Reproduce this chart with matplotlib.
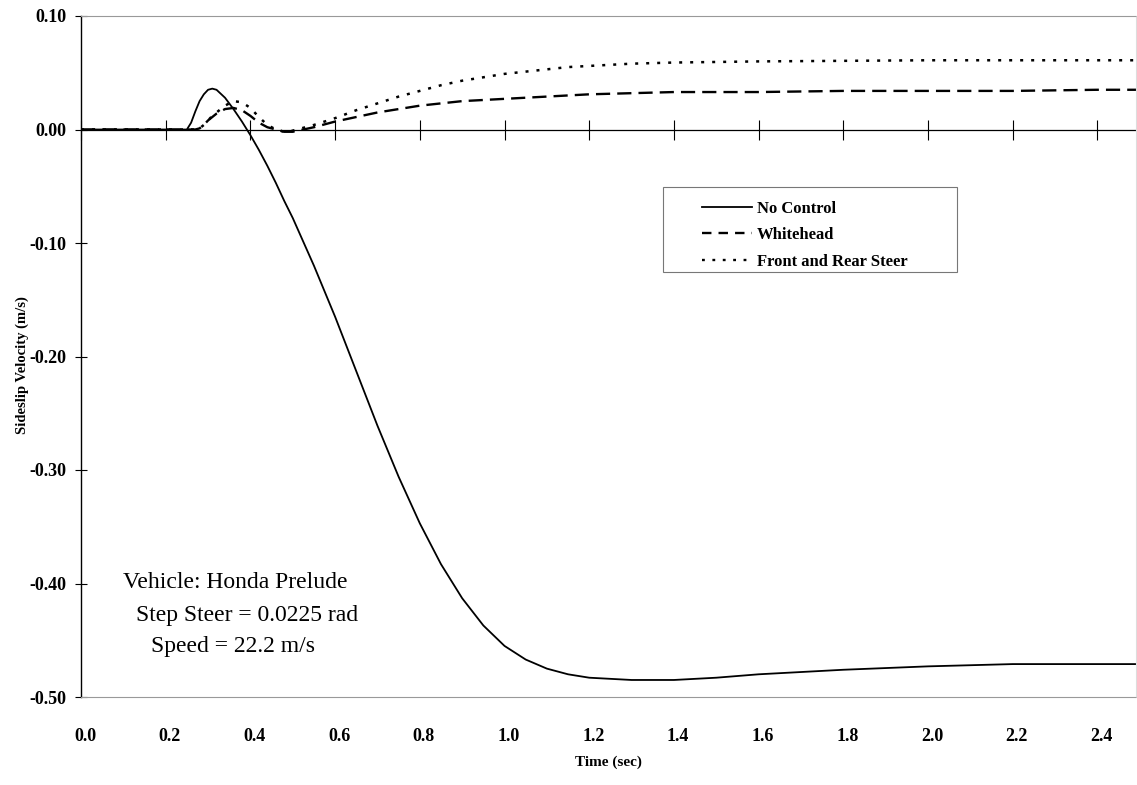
import matplotlib.pyplot as plt
import matplotlib.transforms as mtransforms
from matplotlib.lines import Line2D
from matplotlib.patches import Rectangle

# Data
t = [0.00, 0.20, 0.24, 0.25, 0.26, 0.27, 0.28, 0.29, 0.30, 0.31, 0.32,
     0.34, 0.36, 0.38, 0.40, 0.42, 0.44, 0.46, 0.48, 0.50, 0.55, 0.60,
     0.65, 0.70, 0.75, 0.80, 0.85, 0.90, 0.95, 1.00, 1.05, 1.10, 1.15,
     1.20, 1.30, 1.40, 1.50, 1.60, 1.80, 2.00, 2.20, 2.40, 2.50]

noControl = [0, 0, 0, 0, 0.006, 0.016, 0.025, 0.031, 0.035, 0.036, 0.035,
             0.028, 0.018, 0.007, -0.005, -0.018, -0.032, -0.047, -0.063,
             -0.078, -0.120, -0.165, -0.213, -0.261, -0.306, -0.347,
             -0.383, -0.413, -0.437, -0.455, -0.467, -0.475, -0.480,
             -0.483, -0.485, -0.485, -0.483, -0.480, -0.476, -0.473,
             -0.471, -0.471, -0.471]

whitehead = [0, 0, 0, 0, 0, 0, 0.001, 0.004, 0.008, 0.011, 0.014, 0.018,
             0.019, 0.017, 0.012, 0.006, 0.002, 0.000, -0.002, -0.002,
             0.002, 0.007, 0.011, 0.015, 0.018, 0.021, 0.023, 0.025, 0.026,
             0.027, 0.028, 0.029, 0.030, 0.031, 0.032, 0.033, 0.033, 0.033,
             0.034, 0.034, 0.034, 0.035, 0.035]

frontRear = [0, 0, 0, 0, 0, 0, 0.001, 0.004, 0.008, 0.012, 0.015, 0.021,
             0.025, 0.024, 0.019, 0.011, 0.004, 0.000, -0.002, -0.001,
             0.004, 0.010, 0.017, 0.023, 0.029, 0.034, 0.039, 0.043, 0.046,
             0.049, 0.051, 0.053, 0.055, 0.056, 0.058, 0.059, 0.0595, 0.060,
             0.0605, 0.061, 0.061, 0.061, 0.061]

xTicks = [0.0, 0.2, 0.4, 0.6, 0.8, 1.0, 1.2, 1.4, 1.6, 1.8, 2.0, 2.2, 2.4]
xLabels = ['0.0', '0.2', '0.4', '0.6', '0.8', '1.0', '1.2', '1.4', '1.6',
           '1.8', '2.0', '2.2', '2.4']
yTicks = [0.10, 0.00, -0.10, -0.20, -0.30, -0.40, -0.50]
yLabels = ['0.10', '0.00', '-0.10', '-0.20', '-0.30', '-0.40', '-0.50']
legendNames = ['No Control', 'Whitehead', 'Front and Rear Steer']
notes = ['Vehicle: Honda Prelude', 'Step Steer = 0.0225 rad',
         'Speed = 22.2 m/s']

serif = 'Liberation Serif'

fig = plt.figure(figsize=(11.37, 7.85), dpi=100)
ax = fig.add_axes([81/1137, 1 - 697/785, 1055/1137, 681/785])

ax.plot(t, noControl, color='black', lw=1.3)
ax.plot(t, whitehead, color='black', lw=1.7, dashes=(6, 3))
ax.plot(t, frontRear, color='black', lw=1.8, dashes=(1.2, 3.2))

ax.set_xlim(0, 2.491)
ax.set_ylim(-0.5, 0.1)

# spines: solid left, faint dotted top/bottom, faint right
ax.spines['left'].set_linewidth(1.0)
for side in ['top', 'bottom']:
    ax.spines[side].set_color('#999999')
    ax.spines[side].set_linestyle((0, (1, 1)))
    ax.spines[side].set_linewidth(0.8)
ax.spines['right'].set_color('#dddddd')
ax.spines['right'].set_linewidth(0.8)

ax.set_yticks(yTicks)
ax.set_yticklabels(yLabels, fontfamily=serif, fontweight='bold',
                   fontsize=13)
ax.tick_params(axis='y', direction='inout', length=9, width=0.8, pad=6)

ax.set_xticks(xTicks)
ax.set_xticklabels(xLabels, fontfamily=serif, fontweight='bold',
                   fontsize=13)
ax.tick_params(axis='x', length=0, pad=22)
shift = mtransforms.ScaledTranslation(4/100, 0, fig.dpi_scale_trans)
for lab in ax.get_xticklabels():
    lab.set_transform(lab.get_transform() + shift)

# zero line with tick marks
zero = ax.secondary_xaxis(0.0, transform=ax.transData)
zero.set_xticks(xTicks)
zero.tick_params(axis='x', direction='inout', length=14, width=0.8,
                 labelbottom=False)
zero.spines['bottom'].set_linewidth(0.9)

ax.set_xlabel('Time (sec)', fontfamily=serif, fontweight='bold',
              fontsize=11, labelpad=8)
ax.set_ylabel('Sideslip Velocity (m/s)', fontfamily=serif,
              fontweight='bold', fontsize=10.5)
ax.yaxis.set_label_coords(-0.049, 0.4875)

# legend box
ax.add_patch(Rectangle((0.5517, 0.6241), 0.2786, 0.1248,
                       transform=ax.transAxes, facecolor='none',
                       edgecolor='#777777', lw=0.8))
handles = [Line2D([], [], color='black', lw=1.3),
           Line2D([], [], color='black', lw=1.7, dashes=(4, 3)),
           Line2D([], [], color='black', lw=1.7, dashes=(1.2, 3.2))]
ax.legend(handles, legendNames, loc='upper left',
          bbox_to_anchor=(0.5886, 0.729), frameon=False,
          prop={'family': serif, 'weight': 'bold', 'size': 12},
          handlelength=3.0, handletextpad=0.3, borderpad=0,
          labelspacing=0.63, borderaxespad=0)

ax.text(0.10, -0.399, notes[0], fontfamily=serif, fontsize=17, va='center')
ax.text(0.13, -0.428, notes[1], fontfamily=serif, fontsize=17, va='center')
ax.text(0.165, -0.4555, notes[2], fontfamily=serif, fontsize=17,
        va='center')

plt.savefig('out.png', dpi=100)
